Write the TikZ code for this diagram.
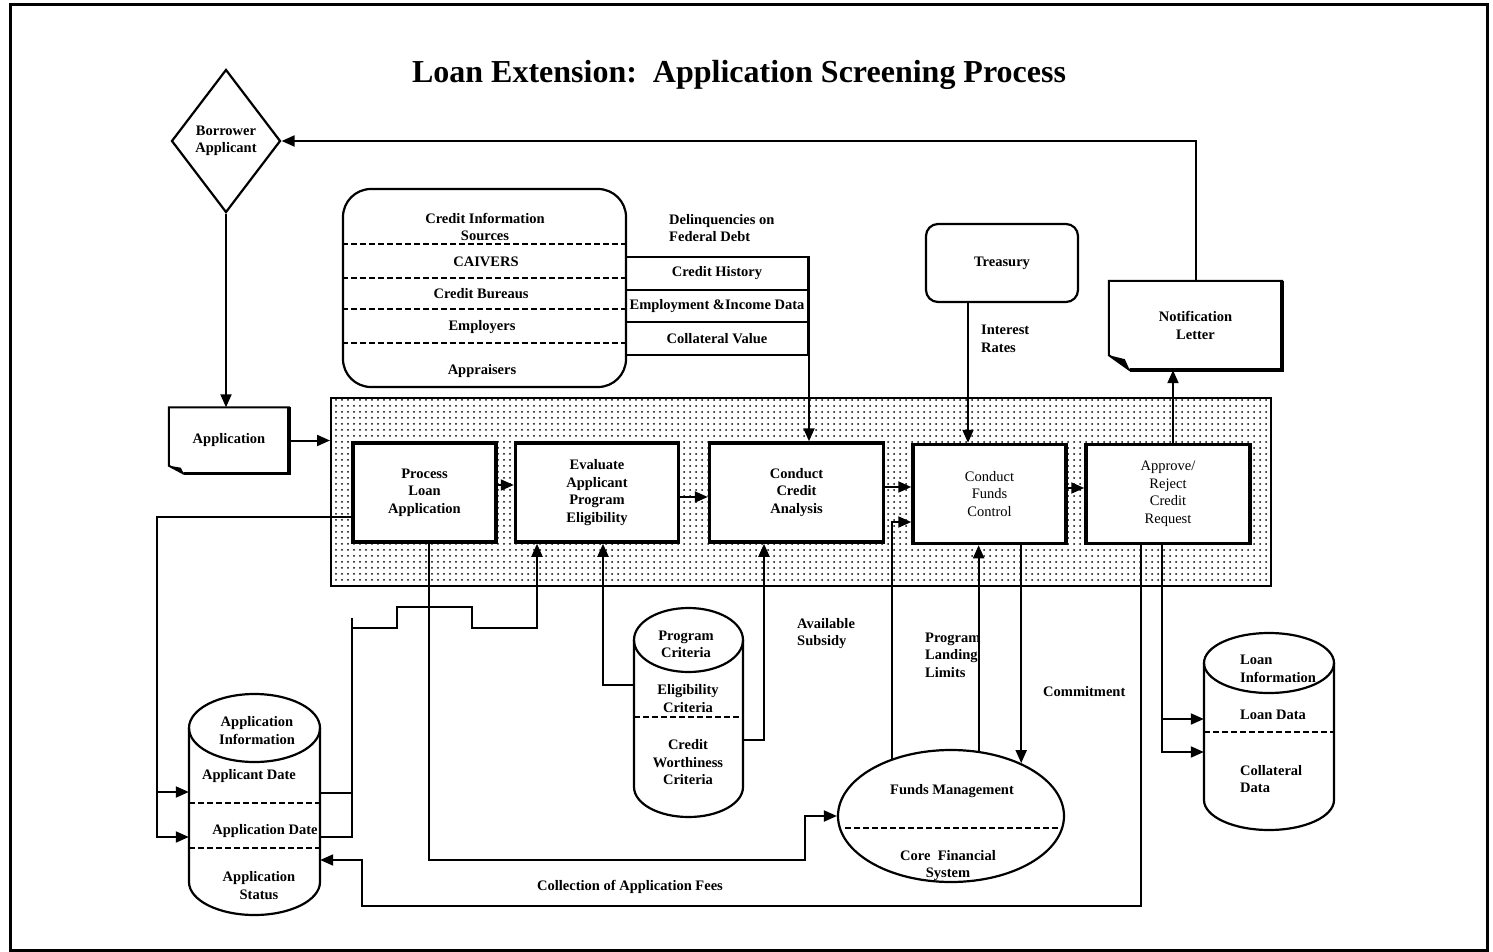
\documentclass[tikz,border=0pt]{standalone}
\usepackage{fontspec}
\setmainfont{Liberation Serif}
\usetikzlibrary{arrows.meta,shapes.geometric,patterns.meta}
\begin{document}
\begin{tikzpicture}[x=1pt,y=-1pt,
  every node/.style={font=\fontsize{14.5}{17.5}\selectfont\bfseries, align=center, inner sep=0pt},
  conn/.style={draw, line width=2pt, -{Triangle[length=13pt,width=11pt]}},
  plain/.style={draw, line width=2pt},
  pbox/.style={draw, line width=3.5pt, fill=white, minimum height=99pt},
  sepline/.style={dash pattern=on 6pt off 3pt, line width=1.6pt},
  lbl/.style={anchor=west, align=left},
  cyl/.style={line width=2.2pt},
  reg/.style={font=\fontsize{14.5}{17.5}\selectfont\mdseries}]

\useasboundingbox (0,0) rectangle (1493,952);
\draw[line width=3pt] (10,5) rectangle (1487,950);

% title
\node (title) at (739,75) {\fontsize{32}{36}\selectfont Loan Extension:\ \ Application Screening Process};

% borrower
\node (borrower) [draw, diamond, line width=2.2pt, minimum width=109pt, minimum height=143pt] at (226,141) {Borrower\\Applicant};

% application document
\node (app) [minimum width=120pt, minimum height=66pt] at (229,440.5) {Application};
\draw[line width=2pt] (app.north west) -- (app.north east) -- (app.south east) -- ([xshift=15pt]app.south west) -- ([yshift=8pt]app.south west) -- cycle;
\draw[line width=3.5pt] (app.north east) -- (app.south east) -- ([xshift=15pt]app.south west);
\fill ([yshift=8pt]app.south west) -- ([xshift=15pt]app.south west) -- ([xshift=12pt,yshift=6pt]app.south west) -- cycle;

% band
\node (band) [draw, line width=2pt, pattern={Dots[distance=6pt,radius=1pt]}, minimum width=940pt, minimum height=188pt] at (801,492) {};

% process boxes
\node (p1) [pbox, minimum width=143pt] at (424.5,492.5) {Process\\Loan\\Application};
\node (p2) [pbox, minimum width=163pt] at (597,492.5) {Evaluate\\Applicant\\Program\\Eligibility};
\node (p3) [pbox, minimum width=174pt] at (796.5,492.5) {Conduct\\Credit\\Analysis};
\node (p4) [pbox, reg, minimum width=153pt] at (989.5,494) {Conduct\\Funds\\Control};
\node (p5) [pbox, reg, minimum width=164pt] at (1168,494) {Approve/\\Reject\\Credit\\Request};

% credit information sources
\node (cis) [draw, line width=2.2pt, rounded corners=28pt, minimum width=283pt, minimum height=198pt] at (484.5,288) {};
\foreach \yy in {244,278,309,343} \draw[sepline] (cis.west |- 0,\yy) -- (cis.east |- 0,\yy);
\node (cis0) at (485,227) {Credit Information\\Sources};
\node (caivers) at (486,262) {CAIVERS};
\node (cbureau) at (481,294) {Credit Bureaus};
\node (employers) at (482,327) {Employers};
\node (appraisers) at (482,371) {Appraisers};

% table
\node (ch) [draw, line width=2pt, minimum width=182pt, minimum height=32.5pt] at (717,273.25) {Credit History};
\node (ei) [draw, line width=2pt, minimum width=182pt, minimum height=32.5pt] at (717,305.75) {Employment \&Income Data};
\node (cv) [draw, line width=2pt, minimum width=182pt, minimum height=32.5pt] at (717,338.25) {Collateral Value};
\node (delinq) [lbl] at (669,228) {Delinquencies on\\Federal Debt};

% treasury
\node (treas) [draw, line width=2.2pt, rounded corners=12pt, minimum width=152pt, minimum height=78pt] at (1002,263) {Treasury};
\node (irates) [lbl] at (981,339) {Interest\\Rates};

% notification letter
\node (notif) [minimum width=173pt, minimum height=89pt] at (1195.5,325.5) {Notification\\Letter};
\draw[line width=2pt] (notif.north west) -- (notif.north east) -- (notif.south east) -- ([xshift=21pt]notif.south west) -- ([yshift=15pt]notif.south west) -- cycle;
\draw[line width=4pt] (notif.north east) -- (notif.south east) -- ([xshift=21pt]notif.south west);
\fill ([yshift=15pt]notif.south west) -- ([xshift=21pt]notif.south west) -- ([xshift=16pt,yshift=11pt]notif.south west) -- cycle;

% application information cylinder
\node (appinfo) [minimum width=131pt, minimum height=221pt] at (254.5,804.5) {};
\draw[cyl] (189,728) -- (189,882) arc[start angle=180, end angle=0, x radius=65.5, y radius=33] -- (320,728);
\draw[cyl] (254.5,728) ellipse [x radius=65.5, y radius=34];
\draw[sepline] (189,803) -- (320,803);
\draw[sepline] (189,848) -- (320,848);
\node (ai0) at (257,730.5) {Application\\Information};
\node (ai1) at (249,776) {Applicant Date};
\node (ai2) at (265,831) {Application Date};
\node (ai3) at (259,885.5) {Application\\Status};

% program criteria cylinder
\node (crit) [minimum width=109pt, minimum height=209pt] at (688.5,712.5) {};
\draw[cyl] (634,640) -- (634,787) arc[start angle=180, end angle=0, x radius=54.5, y radius=30] -- (743,640);
\draw[cyl] (688.5,640) ellipse [x radius=54.5, y radius=32];
\draw[sepline] (634,717) -- (743,717);
\node (cr0) at (686,644.5) {Program\\Criteria};
\node (cr1) at (688,698.5) {Eligibility\\Criteria};
\node (cr2) at (688,762.5) {Credit\\Worthiness\\Criteria};

% loan information cylinder
\node (loan) [minimum width=130pt, minimum height=197pt] at (1269,731.5) {};
\draw[cyl] (1204,663) -- (1204,800) arc[start angle=180, end angle=0, x radius=65, y radius=30] -- (1334,663);
\draw[cyl] (1269,663) ellipse [x radius=65, y radius=30];
\draw[sepline] (1204,732) -- (1334,732);
\node (li0) [lbl] at (1240,669) {Loan\\Information};
\node (li1) [lbl] at (1240,715) {Loan Data};
\node (li2) [lbl] at (1240,779) {Collateral\\Data};

% funds management
\node (funds) [draw, ellipse, line width=2.2pt, minimum width=226pt, minimum height=132pt] at (951,816) {};
\draw[sepline] (845,828) -- (1062,828);
\node (fm0) at (952,791) {Funds Management};
\node (fm1) at (948,865.5) {Core\ \ Financial\\System};

% labels
\node (avail) [lbl] at (797,633.5) {Available\\Subsidy};
\node (plimits) [lbl] at (925,655) {Program\\Landing\\Limits};
\node (commit) [lbl] at (1043,692) {Commitment};
\node (fees) at (630,887) {Collection of Application Fees};

% connectors
\draw[conn] (borrower.south) -- (borrower.south |- app.north);
\draw[conn] (app.east) -- (app.east -| band.west);
\draw[conn] (p1.east |- 0,485) -- (p2.west |- 0,485);
\draw[conn] (p2.east |- 0,497) -- (p3.west |- 0,497);
\draw[conn] (p3.east |- 0,487) -- (p4.west |- 0,487);
\draw[conn] (p4.east |- 0,488) -- (p5.west |- 0,488);
\draw[conn] (ch.north east) -- (ch.north east |- p3.north);
\draw[conn] (treas.south -| 968,0) -- (p4.north -| 968,0);
\draw[conn] (p5.north -| 1173,0) -- (notif.south -| 1173,0);
\draw[conn] (notif.north) |- (borrower.east);

\draw[conn] (p1.west |- 0,517) -| (157,837) -- (appinfo.west |- 0,837);
\draw[conn] (157,792) -- (appinfo.west |- 0,792);

\draw[plain] (appinfo.east |- 0,793) -- (352,793);
\draw[plain] (appinfo.east |- 0,837) -- (352,837) -- (352,618);
\draw[conn] (352,628) -- (397,628) -- (397,607) -- (472,607) -- (472,628) -- (537,628) -- (p2.south -| 537,0);

\draw[conn] (p1.south -| 429,0) -- (429,860) -- (805,860) -- (805,816) -- (funds.west);

\draw[conn] (crit.west |- 0,685) -- (603,685) -- (p2.south -| 603,0);
\draw[conn] (crit.east |- 0,740) -- (764,740) -- (p3.south -| 764,0);

\draw[conn] (funds.136) |- (p4.west |- 0,522);
\draw[conn] (funds.67) -- (funds.67 |- p4.south);
\draw[conn] (funds.37 |- p4.south) -- (funds.37);

\draw[conn] (p5.south -| 1141,0) -- (1141,906) -- (362,906) -- (362,860) -- (appinfo.east |- 0,860);
\draw[conn] (p5.south -| 1162,0) |- (loan.west |- 0,752);
\draw[conn] (1162,719) -- (loan.west |- 0,719);
\end{tikzpicture}
\end{document}
